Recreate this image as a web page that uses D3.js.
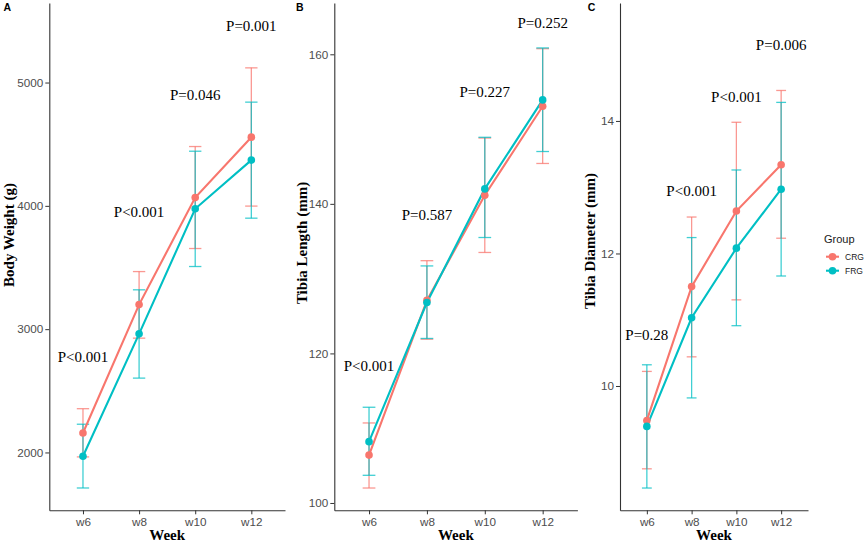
<!DOCTYPE html>
<html>
<head>
<meta charset="utf-8">
<script src="https://cdn.jsdelivr.net/npm/d3@7"></script>
<style>
body { margin: 0; background: #fff; }
.ptext { font-family: "Liberation Serif", "Times New Roman", serif; font-size: 15px; fill: #000; }
.atitle { font-family: "Liberation Serif", "Times New Roman", serif; font-size: 15px; font-weight: bold; fill: #000; }
.letter { font-family: "Liberation Sans", Arial, sans-serif; font-size: 10.5px; font-weight: bold; }
.legend-text { font-family: "Liberation Sans", Arial, sans-serif; fill: #1a1a1a; }
</style>
</head>
<body>
<svg id="chart" width="865" height="542"></svg>
<script>
var weeks = ["w6", "w8", "w10", "w12"];
var groupNames = ["CRG", "FRG"];
var groupColors = ["#F8766D", "#00BFC4"];

// body weight (g)
var bwCRG = [2158, 3199, 4067, 4557];
var bwCRGhi = [2355, 3467, 4481, 5119];
var bwCRGlo = [1964, 2927, 3654, 3998];
var bwFRG = [1969, 2962, 3976, 4371];
var bwFRGhi = [2229, 3319, 4443, 4841];
var bwFRGlo = [1712, 2603, 3508, 3900];
var bwP = ["P<0.001", "P<0.001", "P=0.046", "P=0.001"];
var bwPy = [2774, 3954, 4904, 5458];
var bwTicks = [2000, 3000, 4000, 5000];

// tibia length (mm)
var tlCRG = [106.4, 127.1, 141.15, 153.05];
var tlCRGhi = [110.7, 132.4, 148.8, 160.75];
var tlCRGlo = [102.0, 121.9, 133.5, 145.4];
var tlFRG = [108.2, 126.8, 142.0, 153.9];
var tlFRGhi = [112.8, 131.7, 148.9, 160.85];
var tlFRGlo = [103.7, 122.0, 135.5, 147.0];
var tlP = ["P<0.001", "P=0.587", "P=0.227", "P=0.252"];
var tlPy = [118.3, 138.6, 155.0, 164.2];
var tlTicks = [100, 120, 140, 160];

// tibia diameter (mm)
var tdCRG = [9.48, 11.50, 12.64, 13.34];
var tdCRGhi = [10.22, 12.55, 13.98, 14.46];
var tdCRGlo = [8.75, 10.44, 11.30, 12.23];
var tdFRG = [9.39, 11.03, 12.08, 12.97];
var tdFRGhi = [10.32, 12.24, 13.26, 14.28];
var tdFRGlo = [8.46, 9.82, 10.91, 11.66];
var tdP = ["P=0.28", "P<0.001", "P<0.001", "P=0.006"];
var tdPy = [10.77, 12.95, 14.36, 15.15];
var tdTicks = [10, 12, 14];

var svg = d3.select("#chart");
svg.append("rect").attr("width", 865).attr("height", 542).attr("fill", "#fff");

var plotTop = 3, plotBottom = 510.3;

function styleAxis(sel) {
    sel.attr("font-family", null).attr("font-size", null);
    sel.select(".domain").attr("stroke", "#333").attr("stroke-width", 1.1);
    sel.selectAll(".tick line").attr("stroke", "#333");
    sel.selectAll(".tick text")
        .style("font-family", '"Liberation Sans", Arial, sans-serif')
        .style("font-size", "11.7px")
        .style("fill", "#4d4d4d");
}

function drawPanel(p) {
    var g = svg.append("g");

    var xScale = d3.scalePoint()
        .domain(weeks)
        .range([p.left, p.right])
        .padding(0.6);

    var yScale = d3.scaleLinear()
        .domain(p.yDomain)
        .range([plotBottom, plotTop]);

    // axes
    g.append("g")
        .attr("transform", "translate(0," + plotBottom + ")")
        .call(d3.axisBottom(xScale).tickSize(4).tickSizeOuter(0).tickPadding(3))
        .call(styleAxis);

    g.append("g")
        .attr("transform", "translate(" + p.left + ",0)")
        .call(d3.axisLeft(yScale).tickValues(p.ticks).tickFormat(d3.format("d"))
            .tickSize(4).tickSizeOuter(0).tickPadding(2))
        .call(styleAxis);

    var cap = xScale.step() * 0.22;

    // error bars
    p.series.forEach(function (s) {
        var eb = g.append("g")
            .attr("stroke", s.color)
            .attr("stroke-opacity", 0.75)
            .attr("stroke-width", 1.3);
        weeks.forEach(function (w, i) {
            var cx = xScale(w);
            eb.append("line").attr("x1", cx).attr("x2", cx)
                .attr("y1", yScale(s.lo[i])).attr("y2", yScale(s.hi[i]));
            eb.append("line").attr("x1", cx - cap / 2).attr("x2", cx + cap / 2)
                .attr("y1", yScale(s.hi[i])).attr("y2", yScale(s.hi[i]));
            eb.append("line").attr("x1", cx - cap / 2).attr("x2", cx + cap / 2)
                .attr("y1", yScale(s.lo[i])).attr("y2", yScale(s.lo[i]));
        });
    });

    // lines
    var line = d3.line()
        .x(function (d, i) { return xScale(weeks[i]); })
        .y(function (d) { return yScale(d); });

    p.series.forEach(function (s) {
        g.append("path")
            .datum(s.mean)
            .attr("fill", "none")
            .attr("stroke", s.color)
            .attr("stroke-width", 2.1)
            .attr("d", line);
    });

    // points
    p.series.forEach(function (s) {
        g.selectAll(null)
            .data(s.mean)
            .enter()
            .append("circle")
            .attr("cx", function (d, i) { return xScale(weeks[i]); })
            .attr("cy", function (d) { return yScale(d); })
            .attr("r", 3.8)
            .attr("fill", s.color);
    });

    // p values
    g.selectAll(null)
        .data(p.pText)
        .enter()
        .append("text")
        .classed("ptext", true)
        .attr("x", function (d, i) { return xScale(weeks[i]); })
        .attr("y", function (d, i) { return yScale(p.pY[i]); })
        .attr("dy", "0.35em")
        .attr("text-anchor", "middle")
        .text(function (d) { return d; });

    // titles
    g.append("text")
        .classed("atitle", true)
        .attr("transform", "translate(" + p.titleX + "," + p.titleY + ") rotate(-90)")
        .attr("dy", "0.35em")
        .attr("text-anchor", "middle")
        .text(p.yTitle);

    g.append("text")
        .classed("atitle", true)
        .attr("x", (p.left + p.right) / 2)
        .attr("y", 539.5)
        .attr("text-anchor", "middle")
        .text("Week");

    g.append("text")
        .classed("letter", true)
        .attr("x", p.letterX)
        .attr("y", 10.7)
        .text(p.letter);
}

drawPanel({
    letter: "A", letterX: 3.5,
    left: 49.3, right: 285,
    yDomain: [1531, 5645], ticks: bwTicks,
    yTitle: "Body Weight (g)", titleX: 9, titleY: 235,
    pText: bwP, pY: bwPy,
    series: [
        { color: groupColors[0], mean: bwCRG, hi: bwCRGhi, lo: bwCRGlo },
        { color: groupColors[1], mean: bwFRG, hi: bwFRGhi, lo: bwFRGlo }
    ]
});

drawPanel({
    letter: "B", letterX: 296,
    left: 334.3, right: 577.4,
    yDomain: [99.02, 166.86], ticks: tlTicks,
    yTitle: "Tibia Length (mm)", titleX: 301.7, titleY: 243,
    pText: tlP, pY: tlPy,
    series: [
        { color: groupColors[0], mean: tlCRG, hi: tlCRGhi, lo: tlCRGlo },
        { color: groupColors[1], mean: tlFRG, hi: tlFRGhi, lo: tlFRGlo }
    ]
});

drawPanel({
    letter: "C", letterX: 587.7,
    left: 620, right: 808,
    yDomain: [8.124, 15.78], ticks: tdTicks,
    yTitle: "Tibia Diameter (mm)", titleX: 590, titleY: 241,
    pText: tdP, pY: tdPy,
    series: [
        { color: groupColors[0], mean: tdCRG, hi: tdCRGhi, lo: tdCRGlo },
        { color: groupColors[1], mean: tdFRG, hi: tdFRGhi, lo: tdFRGlo }
    ]
});

// legend
var legend = svg.append("g").attr("transform", "translate(824,0)");
legend.append("text")
    .classed("legend-text", true)
    .attr("x", 0)
    .attr("y", 243)
    .style("font-size", "11px")
    .text("Group");

var legendEntries = legend.selectAll(null)
    .data(groupNames)
    .enter()
    .append("g")
    .attr("transform", function (d, i) { return "translate(0," + (256.7 + i * 14) + ")"; });

legendEntries.append("line")
    .attr("x1", 2).attr("x2", 15)
    .attr("stroke", function (d, i) { return groupColors[i]; })
    .attr("stroke-width", 2.1);
legendEntries.append("circle")
    .attr("cx", 8.5)
    .attr("r", 3.8)
    .attr("fill", function (d, i) { return groupColors[i]; });
legendEntries.append("text")
    .classed("legend-text", true)
    .attr("x", 21)
    .attr("dy", "0.35em")
    .style("font-size", "8.5px")
    .text(function (d) { return d; });
</script>
</body>
</html>
